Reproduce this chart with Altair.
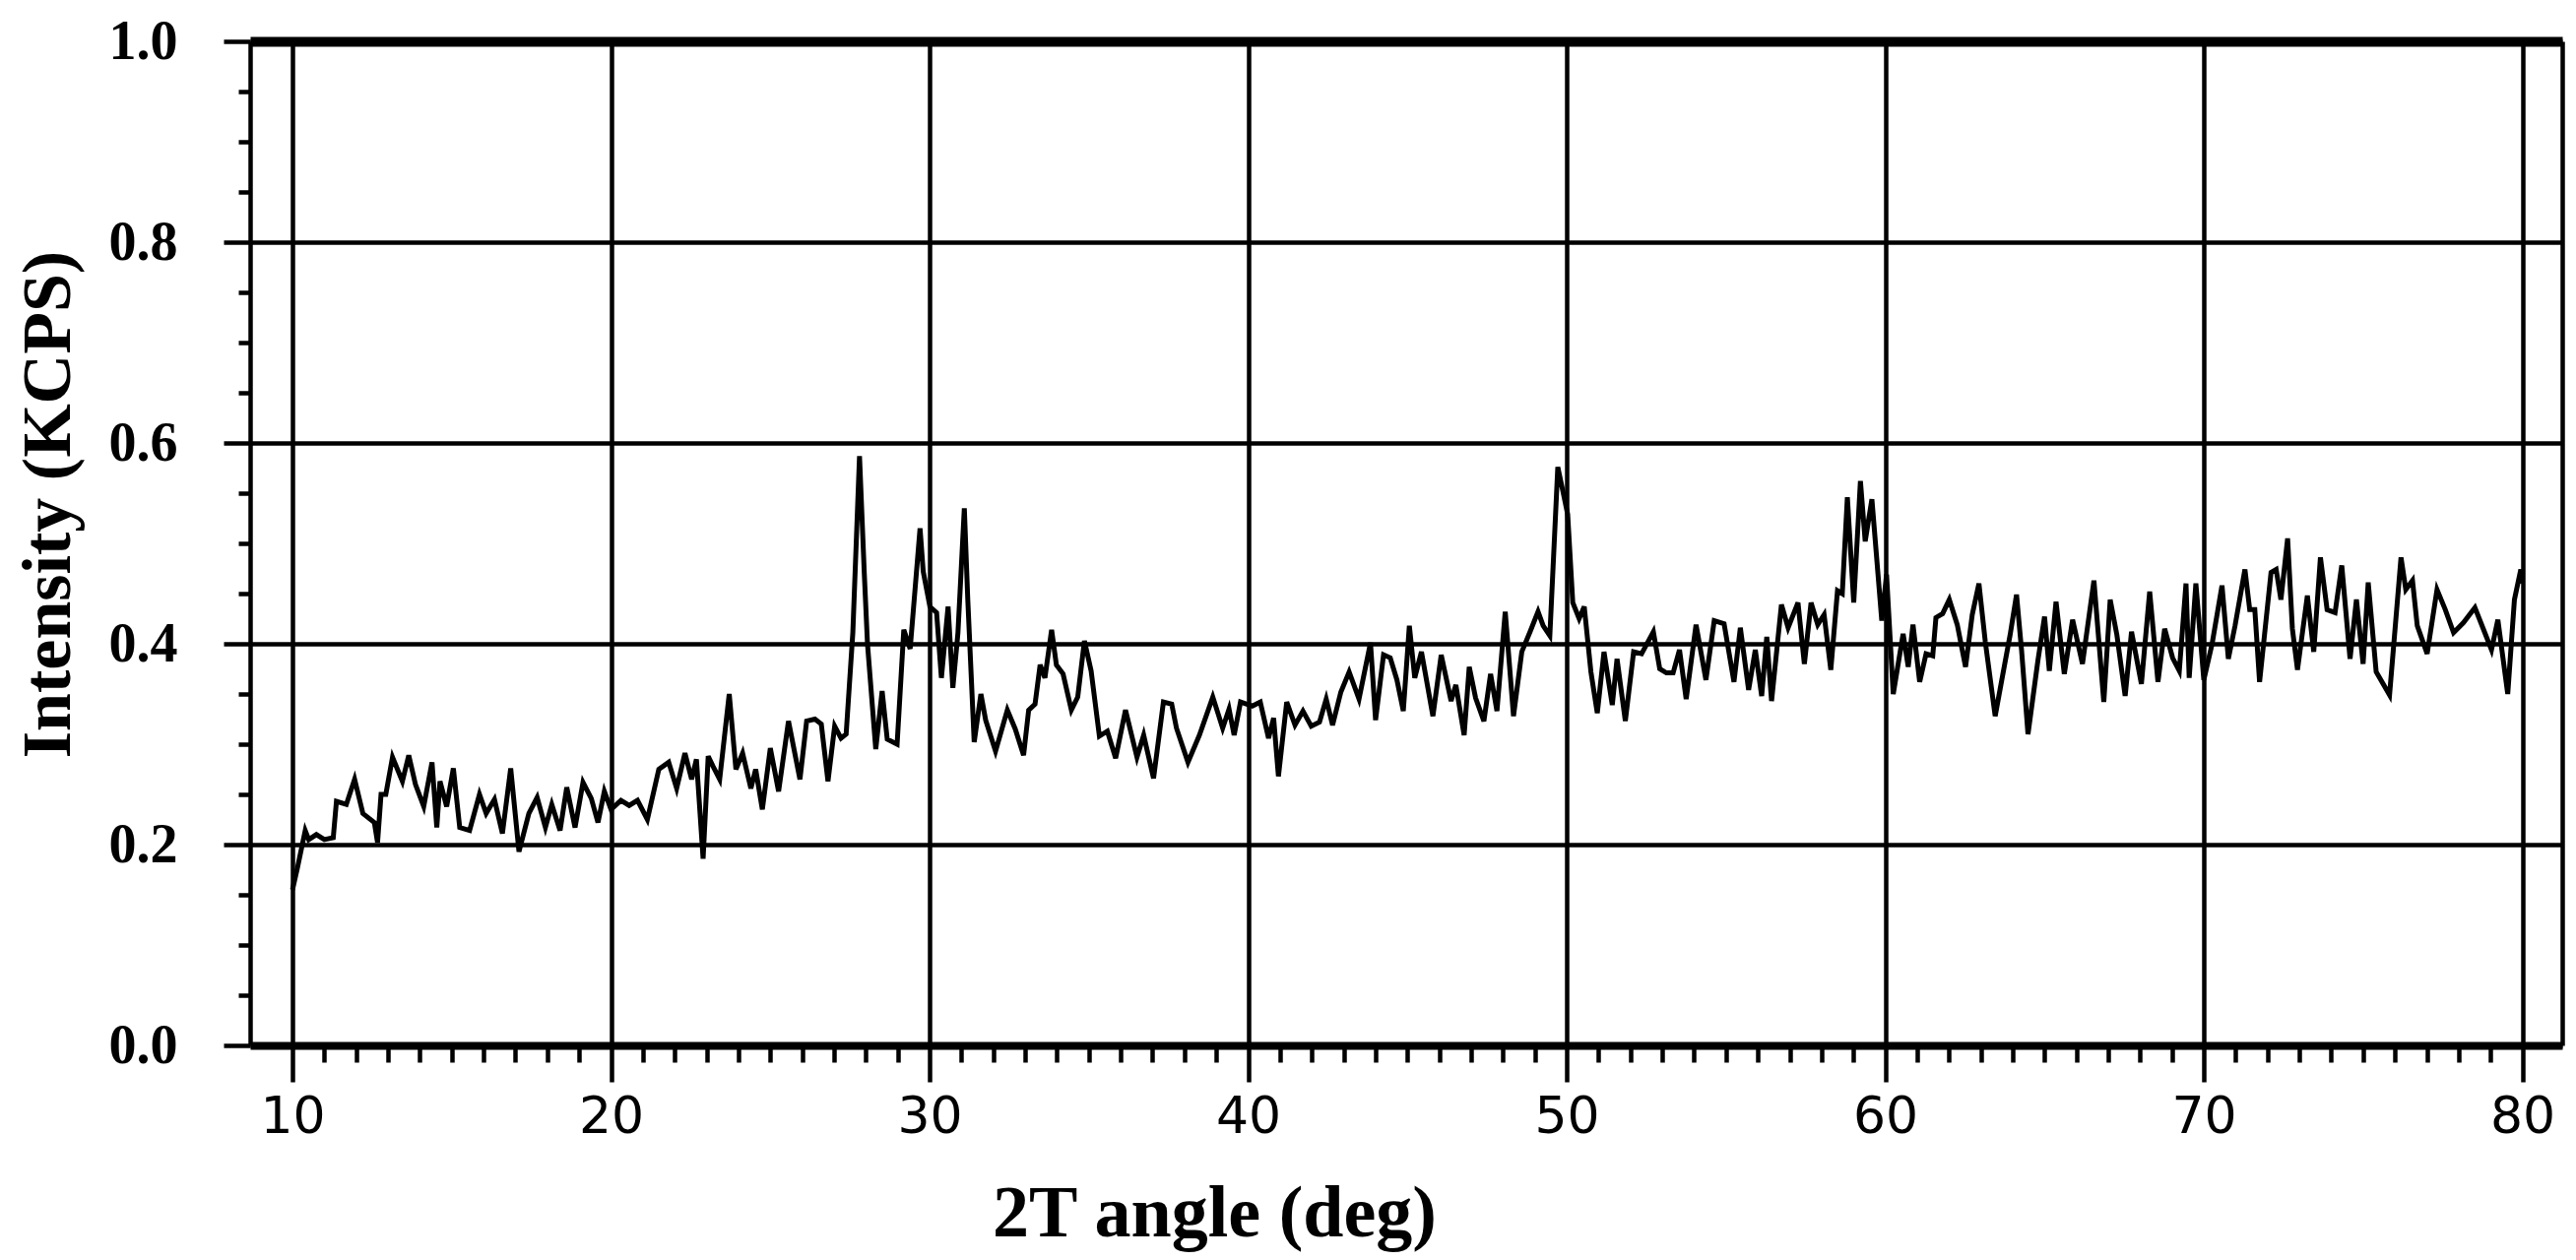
import altair as alt
import pandas as pd

angle = [
    10.00, 10.15, 10.40, 10.51, 10.75, 11.00, 11.28, 11.38, 11.69, 11.95,
    12.21, 12.57, 12.67, 12.78, 12.93, 13.14, 13.45, 13.65, 13.86, 14.12,
    14.38, 14.53, 14.63, 14.84, 15.05, 15.25, 15.56, 15.87, 16.08, 16.34,
    16.59, 16.85, 17.11, 17.42, 17.68, 17.94, 18.14, 18.40, 18.61, 18.87,
    19.12, 19.38, 19.59, 19.79, 20.00, 20.31, 20.57, 20.83, 21.14, 21.50,
    21.81, 22.06, 22.32, 22.53, 22.68, 22.89, 23.05, 23.20, 23.41, 23.71,
    23.92, 24.13, 24.39, 24.54, 24.75, 25.00, 25.26, 25.57, 25.93, 26.14,
    26.40, 26.60, 26.81, 27.02, 27.22, 27.38, 27.59, 27.80, 27.95, 28.05,
    28.31, 28.51, 28.67, 28.98, 29.19, 29.39, 29.70, 29.80, 30.01, 30.22,
    30.37, 30.58, 30.73, 30.89, 31.09, 31.20, 31.40, 31.61, 31.76, 32.07,
    32.44, 32.69, 32.95, 33.11, 33.31, 33.47, 33.62, 33.83, 33.98, 34.19,
    34.45, 34.65, 34.86, 35.07, 35.33, 35.58, 35.84, 36.15, 36.51, 36.72,
    37.03, 37.34, 37.60, 37.75, 38.11, 38.47, 38.89, 39.20, 39.40, 39.56,
    39.76, 40.13, 40.38, 40.64, 40.80, 40.95, 41.21, 41.47, 41.72, 41.98,
    42.24, 42.45, 42.65, 42.91, 43.17, 43.48, 43.84, 44.00, 44.25, 44.46,
    44.67, 44.87, 45.06, 45.23, 45.44, 45.80, 46.06, 46.37, 46.52, 46.78,
    46.94, 47.14, 47.40, 47.61, 47.81, 48.07, 48.33, 48.59, 48.85, 49.10,
    49.26, 49.47, 49.72, 49.88, 50.03, 50.19, 50.39, 50.55, 50.76, 50.96,
    51.17, 51.43, 51.58, 51.84, 52.10, 52.35, 52.72, 52.92, 53.13, 53.34,
    53.54, 53.75, 54.06, 54.37, 54.63, 54.94, 55.25, 55.45, 55.71, 55.92,
    56.12, 56.28, 56.43, 56.74, 56.95, 57.26, 57.46, 57.67, 57.88, 58.08,
    58.29, 58.50, 58.65, 58.81, 59.01, 59.22, 59.37, 59.58, 59.89, 60.04,
    60.25, 60.56, 60.72, 60.87, 61.08, 61.28, 61.49, 61.59, 61.80, 62.01,
    62.26, 62.52, 62.73, 62.94, 63.14, 63.45, 63.71, 63.92, 64.12, 64.28,
    64.48, 64.79, 65.00, 65.15, 65.36, 65.62, 65.88, 66.19, 66.55, 66.86,
    67.06, 67.27, 67.53, 67.73, 68.04, 68.30, 68.56, 68.77, 69.02, 69.23,
    69.44, 69.54, 69.75, 70.00, 70.26, 70.57, 70.77, 70.98, 71.29, 71.44,
    71.60, 71.75, 72.11, 72.27, 72.42, 72.63, 72.78, 72.94, 73.25, 73.45,
    73.66, 73.87, 74.12, 74.33, 74.59, 74.79, 75.00, 75.16, 75.41, 75.83,
    76.19, 76.34, 76.55, 76.70, 77.01, 77.32, 77.58, 77.84, 78.15, 78.51,
    78.82, 79.03, 79.23, 79.54, 79.75, 79.95, 80.00,
]

intensity = [
    0.155, 0.176, 0.214, 0.205, 0.210, 0.205, 0.207, 0.243, 0.240, 0.265,
    0.231, 0.222, 0.202, 0.250, 0.250, 0.287, 0.263, 0.289, 0.260, 0.238,
    0.282, 0.217, 0.263, 0.238, 0.276, 0.217, 0.214, 0.250, 0.231, 0.245,
    0.211, 0.276, 0.193, 0.231, 0.247, 0.217, 0.240, 0.214, 0.257, 0.217,
    0.262, 0.246, 0.222, 0.253, 0.235, 0.244, 0.239, 0.244, 0.225, 0.275,
    0.282, 0.256, 0.291, 0.265, 0.285, 0.186, 0.288, 0.278, 0.265, 0.350,
    0.275, 0.291, 0.256, 0.275, 0.235, 0.296, 0.253, 0.323, 0.265, 0.323,
    0.325, 0.320, 0.263, 0.318, 0.306, 0.310, 0.411, 0.587, 0.470, 0.400,
    0.295, 0.353, 0.305, 0.300, 0.414, 0.395, 0.515, 0.472, 0.437, 0.431,
    0.366, 0.437, 0.356, 0.411, 0.535, 0.443, 0.302, 0.350, 0.324, 0.293,
    0.334, 0.315, 0.289, 0.334, 0.340, 0.379, 0.366, 0.414, 0.379, 0.370,
    0.334, 0.347, 0.403, 0.373, 0.308, 0.313, 0.286, 0.334, 0.287, 0.309,
    0.266, 0.342, 0.340, 0.316, 0.282, 0.309, 0.347, 0.316, 0.335, 0.309,
    0.342, 0.338, 0.342, 0.306, 0.326, 0.268, 0.342, 0.319, 0.333, 0.318,
    0.322, 0.345, 0.319, 0.352, 0.372, 0.345, 0.401, 0.324, 0.389, 0.386,
    0.364, 0.333, 0.418, 0.366, 0.392, 0.328, 0.389, 0.343, 0.359, 0.309,
    0.377, 0.346, 0.323, 0.370, 0.333, 0.432, 0.328, 0.392, 0.412, 0.432,
    0.418, 0.408, 0.576, 0.552, 0.529, 0.441, 0.425, 0.437, 0.372, 0.331,
    0.392, 0.339, 0.385, 0.323, 0.392, 0.390, 0.412, 0.375, 0.371, 0.371,
    0.394, 0.345, 0.419, 0.364, 0.423, 0.420, 0.362, 0.416, 0.354, 0.394,
    0.348, 0.407, 0.343, 0.439, 0.416, 0.441, 0.380, 0.441, 0.419, 0.429,
    0.374, 0.453, 0.450, 0.546, 0.441, 0.562, 0.502, 0.544, 0.423, 0.469,
    0.350, 0.410, 0.377, 0.419, 0.362, 0.390, 0.388, 0.426, 0.430, 0.444,
    0.419, 0.377, 0.429, 0.460, 0.402, 0.328, 0.373, 0.409, 0.449, 0.393,
    0.310, 0.383, 0.427, 0.373, 0.442, 0.370, 0.424, 0.380, 0.463, 0.342,
    0.444, 0.409, 0.348, 0.412, 0.360, 0.452, 0.362, 0.415, 0.386, 0.373,
    0.460, 0.366, 0.460, 0.364, 0.400, 0.458, 0.385, 0.418, 0.474, 0.434,
    0.434, 0.362, 0.471, 0.474, 0.444, 0.505, 0.415, 0.374, 0.448, 0.392,
    0.486, 0.434, 0.431, 0.478, 0.385, 0.444, 0.380, 0.461, 0.372, 0.349,
    0.486, 0.454, 0.463, 0.418, 0.390, 0.454, 0.434, 0.411, 0.421, 0.436,
    0.411, 0.394, 0.424, 0.350, 0.444, 0.474, 0.460,
]

x_tick_values = list(range(10, 81))
y_tick_values = [round(i * 0.05, 2) for i in range(21)]
x_title = "2T angle (deg)"
y_title = "Intensity (KCPS)"

df = pd.DataFrame({"angle": angle, "intensity": intensity})

serif = "Liberation Serif, Times New Roman, serif"
sans = "DejaVu Sans, sans-serif"

x_major = "datum.value % 10 === 0"
y_major = "round(datum.value * 100) % 20 === 0"

x_scale = alt.Scale(domain=[8.67, 81.25], nice=False, zero=False)
y_scale = alt.Scale(domain=[0, 1.0], nice=False, zero=True)

x_axis = alt.Axis(
    values=x_tick_values,
    labelExpr=f"{x_major} ? datum.label : ''",
    format="d",
    labelOverlap=False,
    labelFlush=False,
    labelFont=sans,
    labelFontSize=52,
    labelColor="black",
    labelPadding=10,
    ticks=True,
    tickColor="black",
    tickWidth=4.5,
    tickSize={"condition": {"test": x_major, "value": 37}, "value": 17},
    grid=True,
    gridColor="black",
    gridWidth=4.5,
    gridOpacity={"condition": {"test": x_major, "value": 1}, "value": 0},
    domainColor="black",
    domainWidth=8,
    title=x_title,
    titleFont=serif,
    titleFontWeight="bold",
    titleFontSize=74,
    titleColor="black",
    titleX=979,
    titleY=193,
    titleBaseline="alphabetic",
    titleAlign="center",
)

y_axis = alt.Axis(
    values=y_tick_values,
    labelExpr=f"{y_major} ? format(datum.value, '.1f') : ''",
    labelOverlap=False,
    labelFlush=False,
    labelFont=serif,
    labelFontWeight="bold",
    labelFontSize=56,
    labelColor="black",
    labelPadding=47,
    labelBaseline="middle",
    ticks=True,
    tickColor="black",
    tickWidth=4.5,
    tickSize={"condition": {"test": y_major, "value": 27}, "value": 12},
    grid=True,
    gridColor="black",
    gridWidth=4.5,
    gridOpacity={"condition": {"test": y_major, "value": 1}, "value": 0},
    domainColor="black",
    domainWidth=4.5,
    title=y_title,
    titleFont=serif,
    titleFontWeight="bold",
    titleFontSize=70,
    titleColor="black",
    titleAngle=270,
    titleX=-184,
    titleY=470,
    titleBaseline="alphabetic",
    titleAlign="center",
)

main = alt.Chart(df).mark_line(color="black", strokeWidth=5).encode(
    x=alt.X("angle:Q", scale=x_scale, axis=x_axis),
    y=alt.Y("intensity:Q", scale=y_scale, axis=y_axis),
)

frame = alt.Chart(df).mark_line(strokeOpacity=0).encode(
    x=alt.X(
        "angle:Q",
        scale=x_scale,
        axis=alt.Axis(orient="top", labels=False, ticks=False, grid=False,
                      domainColor="black", domainWidth=10, title=None),
    ),
    y=alt.Y(
        "intensity:Q",
        scale=y_scale,
        axis=alt.Axis(orient="right", labels=False, ticks=False, grid=False,
                      domainColor="black", domainWidth=4.5, title=None),
    ),
)

chart = (
    alt.layer(main, frame)
    .resolve_axis(x="independent", y="independent")
    .properties(
        width=2348,
        height=1020,
        autosize=alt.AutoSizeParams(type="none"),
        padding={"left": 246, "top": 34, "right": 6, "bottom": 210},
        background="white",
    )
    .configure_view(stroke=None)
)

chart.save("out.html", embed_options={"renderer": "svg", "actions": False})
